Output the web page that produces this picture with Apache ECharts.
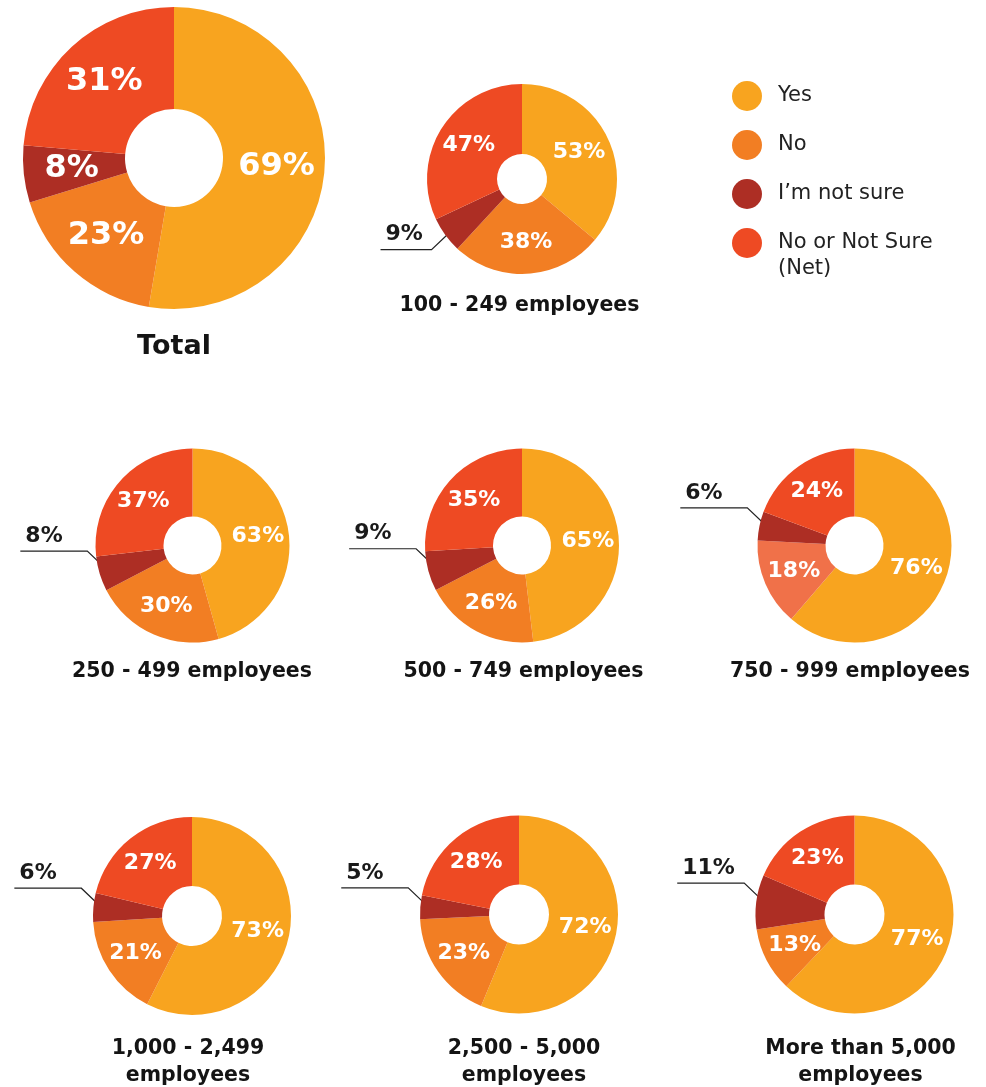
<!DOCTYPE html>
<html><head><meta charset="utf-8">
<script src="https://cdn.jsdelivr.net/npm/echarts@6/dist/echarts.min.js"></script>
<style>html,body{margin:0;padding:0;background:#fff}#c{width:986px;height:1087px}</style>
</head><body><div id="c"></div>
<script>
// ---- data ----
const categories = ['Yes', 'No', 'I’m not sure', 'No or Not Sure (Net)'];
const groups = ['Total', '100 - 249 employees', '250 - 499 employees', '500 - 749 employees',
  '750 - 999 employees', '1,000 - 2,499\nemployees', '2,500 - 5,000\nemployees', 'More than 5,000\nemployees'];
const yesVals = [69, 53, 63, 65, 76, 73, 72, 77];
const noVals = [23, 38, 30, 26, 18, 21, 23, 13];
const notSureVals = [8, 9, 8, 9, 6, 6, 5, 11];
const netVals = [31, 47, 37, 35, 24, 27, 28, 23];

// ---- style / layout ----
const colors = ['#F8A41F', '#F27E23', '#AD2E24', '#EE4A23'];
const colorOverride = { 4: { 1: '#F07149' } };
const FONT = 'DejaVu Sans';
const INSET = 9; // how far the leader line reaches into its slice
const layouts = [
  { c: [174, 158], r: [49, 151], fs: 32, t: [174, 331], tfs: 27, dir: -1, h: 60 },
  { c: [522, 179], r: [25, 95], fs: 22, t: [519.5, 292.5], tfs: 20.5, dir: 1, h: 51 },
  { c: [192.5, 545.5], r: [29, 97], fs: 22, t: [192, 658.5], tfs: 20.5, dir: -1, h: 67 },
  { c: [522, 545.5], r: [29, 97], fs: 22, t: [523.5, 658.5], tfs: 20.5, dir: -1, h: 67 },
  { c: [854.5, 545.5], r: [29, 97], fs: 22, t: [850, 658.5], tfs: 20.5, dir: -1, h: 67 },
  { c: [192, 916], r: [30, 99], fs: 22, t: [188, 1035], tfs: 20.5, dir: -1, h: 67 },
  { c: [519, 914.5], r: [30, 99], fs: 22, t: [524, 1035], tfs: 20.5, dir: -1, h: 67 },
  { c: [854.5, 914.5], r: [30, 99], fs: 22, t: [860.5, 1035], tfs: 20.5, dir: -1, h: 67 }
];

function leaderLayout(p, i) {
  if (p.dataIndex !== 2 || !p.labelLinePoints) return {};
  const L = layouts[i];
  const cx = L.c[0], cy = L.c[1];
  const q0 = p.labelLinePoints[0];
  const vx = q0[0] - cx, vy = q0[1] - cy, len = Math.hypot(vx, vy);
  const rr = L.r[1] - INSET;
  const a = [cx + vx / len * rr, cy + vy / len * rr];
  const b = [a[0] - 21, a[1] + L.dir * 20];
  const c = [b[0] - L.h, b[1]];
  return { x: c[0] + 5, y: c[1] - 15, align: 'left', verticalAlign: 'middle', labelLinePoints: [a, b, c] };
}

const series = [];
// visible donuts
groups.forEach((g, i) => {
  const L = layouts[i];
  const vals = [yesVals[i], noVals[i], notSureVals[i], netVals[i]];
  series.push({
    type: 'pie', name: g, center: L.c, radius: L.r,
    startAngle: 90, clockwise: true, avoidLabelOverlap: false, animation: false,
    emphasis: { disabled: true },
    label: {
      show: true, position: 'inside', formatter: '{c}%',
      color: '#fff', fontFamily: FONT, fontWeight: 'bold', fontSize: L.fs
    },
    labelLine: { show: false },
    data: vals.map((v, k) => {
      const col = (colorOverride[i] && colorOverride[i][k]) || colors[k];
      const d = { name: categories[k], value: v, itemStyle: { color: col } };
      if (i > 0 && k === 2) d.label = { show: false };
      return d;
    })
  });
});
// transparent overlay donuts carrying only the outside "not sure" labels + leader lines
groups.forEach((g, i) => {
  if (i === 0) return;
  const L = layouts[i];
  const vals = [yesVals[i], noVals[i], notSureVals[i], netVals[i]];
  series.push({
    type: 'pie', name: g + ' (labels)', center: L.c, radius: [L.r[0], L.r[1] - INSET],
    startAngle: 90, clockwise: true, avoidLabelOverlap: false, animation: false,
    silent: true, legendHoverLink: false,
    emphasis: { disabled: true },
    itemStyle: { color: 'rgba(0,0,0,0)' },
    label: { show: false },
    labelLine: { show: false },
    labelLayout: p => leaderLayout(p, i),
    data: vals.map((v, k) => {
      const d = { name: categories[k], value: v };
      if (k === 2) {
        d.label = { show: true, position: 'outside', formatter: '{c}%', color: '#1a1a1a',
          fontFamily: FONT, fontWeight: 'bold', fontSize: 22 };
        d.labelLine = { show: true, length: 18, length2: 50, smooth: false,
          lineStyle: { color: '#222', width: 1.2 } };
      }
      return d;
    })
  });
});

const titles = groups.map((g, i) => ({
  text: g,
  left: layouts[i].t[0],
  top: layouts[i].t[1],
  textAlign: 'center',
  padding: 0,
  textStyle: {
    fontFamily: FONT, fontWeight: 'bold', fontSize: layouts[i].tfs,
    color: '#141414', lineHeight: i === 0 ? 32 : 27
  }
}));

const chart = echarts.init(document.getElementById('c'), null, { renderer: 'canvas' });
chart.setOption({
  backgroundColor: '#ffffff',
  animation: false,
  title: titles,
  legend: [
    {
      data: categories.slice(0, 3),
      orient: 'vertical', left: 732, top: 81, padding: 0,
      itemWidth: 30, itemHeight: 30, itemGap: 19, icon: 'circle',
      selectedMode: false,
      textStyle: { fontFamily: FONT, fontSize: 21, color: '#222', padding: [0, 0, 0, 11] }
    },
    {
      data: [categories[3]],
      orient: 'vertical', left: 732, top: 204, padding: 0,
      itemWidth: 30, itemHeight: 30, icon: 'circle',
      selectedMode: false,
      formatter: n => '\n' + n.replace(' (', '\n('),
      textStyle: { fontFamily: FONT, fontSize: 21, color: '#222', lineHeight: 26, padding: [0, 0, 0, 11] }
    }
  ],
  series: series
});
</script>
</body></html>
